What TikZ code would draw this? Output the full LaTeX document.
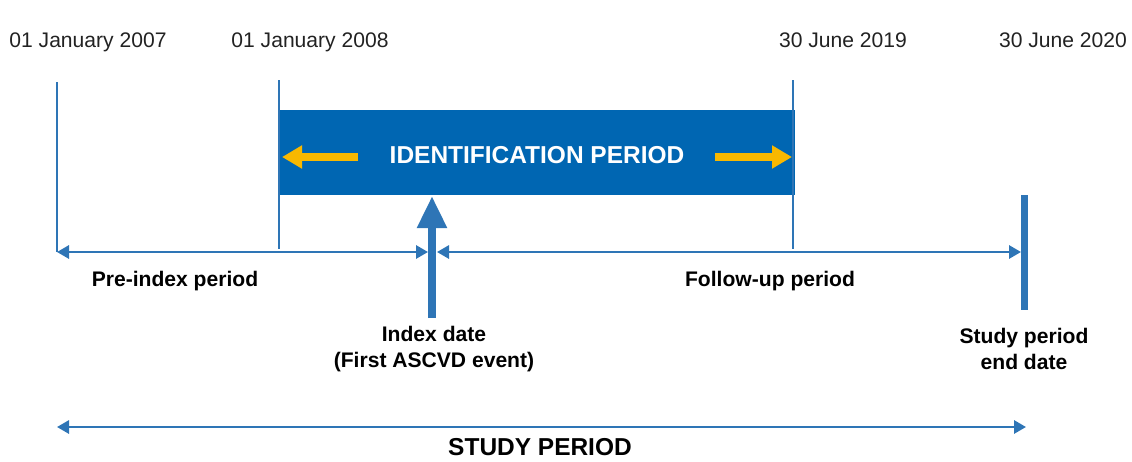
\documentclass[tikz,border=0pt]{standalone}
\usepackage{fontspec}
\setmainfont{Liberation Sans}
\usetikzlibrary{arrows.meta}
\definecolor{lineblue}{RGB}{46,117,182}
\definecolor{boxblue}{RGB}{0,102,178}
\definecolor{arrowgold}{RGB}{248,184,0}
\definecolor{datetext}{RGB}{34,34,34}
\tikzset{
    datelbl/.style={font=\fontsize{15}{18}\selectfont, text=datetext},
    periodlbl/.style={font=\fontsize{15}{18}\selectfont\bfseries, align=center},
    tick/.style={draw=lineblue, line width=0.04cm},
    span/.style={draw=lineblue, line width=0.06cm, {Triangle[length=0.3cm,width=0.33cm]}-{Triangle[length=0.3cm,width=0.33cm]}},
    idbox/.style={fill=boxblue, minimum width=12.9cm, minimum height=2.125cm},
    idtext/.style={text=white, font=\fontsize{17.4}{20}\selectfont\bfseries},
    goldarrow/.style={draw=arrowgold, line width=0.18cm, -{Triangle[length=0.5cm,width=0.55cm]}},
    indexarrow/.style={draw=lineblue, line width=0.2cm, -{Triangle[length=0.8cm,width=0.7cm]}},
    endbar/.style={draw=lineblue, line width=0.175cm}
}
\begin{document}
\begin{tikzpicture}[x=0.025cm, y=-0.025cm]
    \useasboundingbox (0,0) rectangle (1132,461);
    \node[datelbl] (d07) at (88,42) {01 January 2007};
    \node[datelbl] (d08) at (310,42) {01 January 2008};
    \node[datelbl] (d19) at (843,40) {30 June 2019};
    \node[datelbl] (d20) at (1063,40) {30 June 2020};
    \node[idbox] (id) at (537,152.5) {};
    \node[idtext] (idlbl) at (537,155) {IDENTIFICATION PERIOD};
    \coordinate (t07a) at (57,82);
    \coordinate (t07b) at (57,252);
    \coordinate (t08a) at (279,80);
    \coordinate (t08b) at (279,249);
    \coordinate (t19a) at (793,80);
    \coordinate (t19b) at (793,249);
    \coordinate (preR) at (428,252);
    \coordinate (folL) at (437,252);
    \coordinate (folR) at (1021,252);
    \coordinate (idxA) at (432,318);
    \coordinate (idxB) at (432,196);
    \coordinate (endA) at (1024,195);
    \coordinate (endB) at (1024,310);
    \coordinate (yl1) at (358,157);
    \coordinate (yl2) at (282,157);
    \coordinate (yr1) at (715,157);
    \coordinate (yr2) at (792,157);
    \coordinate (stL) at (57,427);
    \coordinate (stR) at (1026,427);
    \draw[tick] (t07a) -- (t07b);
    \draw[tick] (t08a) -- (t08b);
    \draw[tick] (t19a) -- (t19b);
    \draw[goldarrow] (yl1) -- (yl2);
    \draw[goldarrow] (yr1) -- (yr2);
    \draw[span] (t07b) -- (preR);
    \draw[span] (folL) -- (folR);
    \draw[indexarrow] (idxA) -- (idxB);
    \draw[endbar] (endA) -- (endB);
    \draw[span] (stL) -- (stR);
    \node[periodlbl] (pre) at (175,281) {Pre-index period};
    \node[periodlbl] (fol) at (770,281) {Follow-up period};
    \node[periodlbl] (idx) at (434,349) {Index date\\(First ASCVD event)};
    \node[periodlbl] (end) at (1024,349) {Study period\\end date};
    \node[font=\fontsize{17.4}{20}\selectfont\bfseries] (study) at (540,447) {STUDY PERIOD};
\end{tikzpicture}
\end{document}
